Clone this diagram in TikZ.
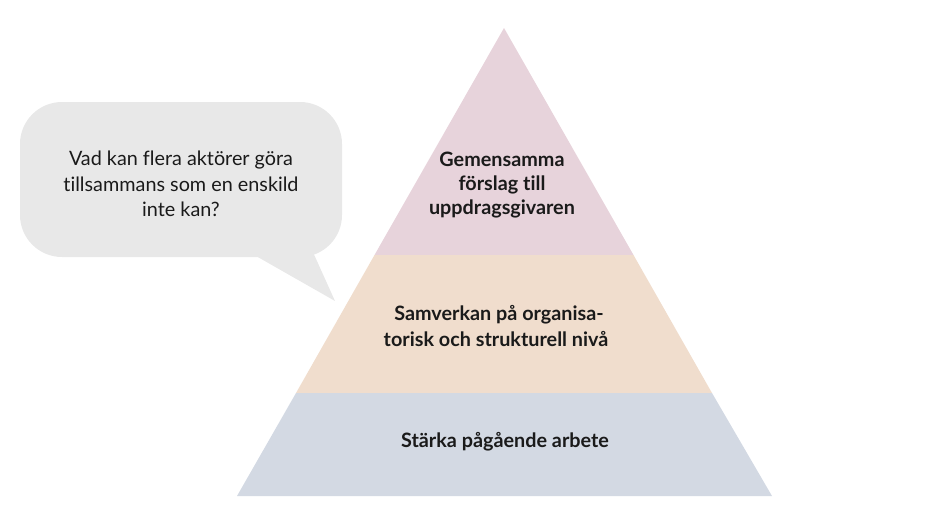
\documentclass[tikz,border=0pt]{standalone}
\usepackage{fontspec}
\setmainfont{Lato}[Ligatures={NoCommon}]
\definecolor{toppink}{HTML}{E7D3DB}
\definecolor{midpeach}{HTML}{F0DDCD}
\definecolor{botblue}{HTML}{D3D9E3}
\definecolor{bubblegrey}{HTML}{E8E8E8}
\definecolor{txt}{HTML}{1A1A1A}
\tikzset{
  bubbletxt/.style={anchor=base, inner sep=0pt, text=txt, font=\fontsize{19.8}{24}\selectfont},
  pyrtxt/.style={anchor=base, inner sep=0pt, text=txt, font=\fontsize{19.8}{24}\selectfont\bfseries},
}
\begin{document}
\begin{tikzpicture}[x=1pt,y=-1pt]
\useasboundingbox (0,0) rectangle (934,525);
% pyramid layers
\coordinate (apex) at (504,28);
\coordinate (bl) at (237,496);
\coordinate (br) at (772,496);
\coordinate (l1) at (374.5,255);
\coordinate (r1) at (633.5,255);
\coordinate (l2) at (296,393);
\coordinate (r2) at (712,393);
\fill[toppink] (apex) -- (r1) -- (l1) -- cycle;
\fill[midpeach] (l1) -- (r1) -- (r2) -- (l2) -- cycle;
\fill[botblue] (l2) -- (r2) -- (br) -- (bl) -- cycle;
% speech bubble
\fill[bubblegrey, rounded corners=42pt] (20,102) rectangle (342,257);
\coordinate (tailA) at (256,256);
\coordinate (tailTip) at (335,301);
\coordinate (tailB) at (312,250);
\fill[bubblegrey] (tailA) -- (tailTip) -- (tailB) -- cycle;
% bubble text
\node[bubbletxt] (q1) at (181,165) {Vad kan flera aktörer göra};
\node[bubbletxt] (q2) at (181,191) {tillsammans som en enskild};
\node[bubbletxt] (q3) at (181,216) {inte kan?};
% pyramid text
\node[pyrtxt] (t1) at (502,166) {Gemensamma};
\node[pyrtxt] (t2) at (502,190) {förslag till};
\node[pyrtxt] (t3) at (502,214) {uppdragsgivaren};
\node[pyrtxt] (m1) at (499,320) {Samverkan på organisa-};
\node[pyrtxt] (m2) at (496,346) {torisk och strukturell nivå};
\node[pyrtxt] (b1) at (505,447) {Stärka pågående arbete};
\end{tikzpicture}
\end{document}
